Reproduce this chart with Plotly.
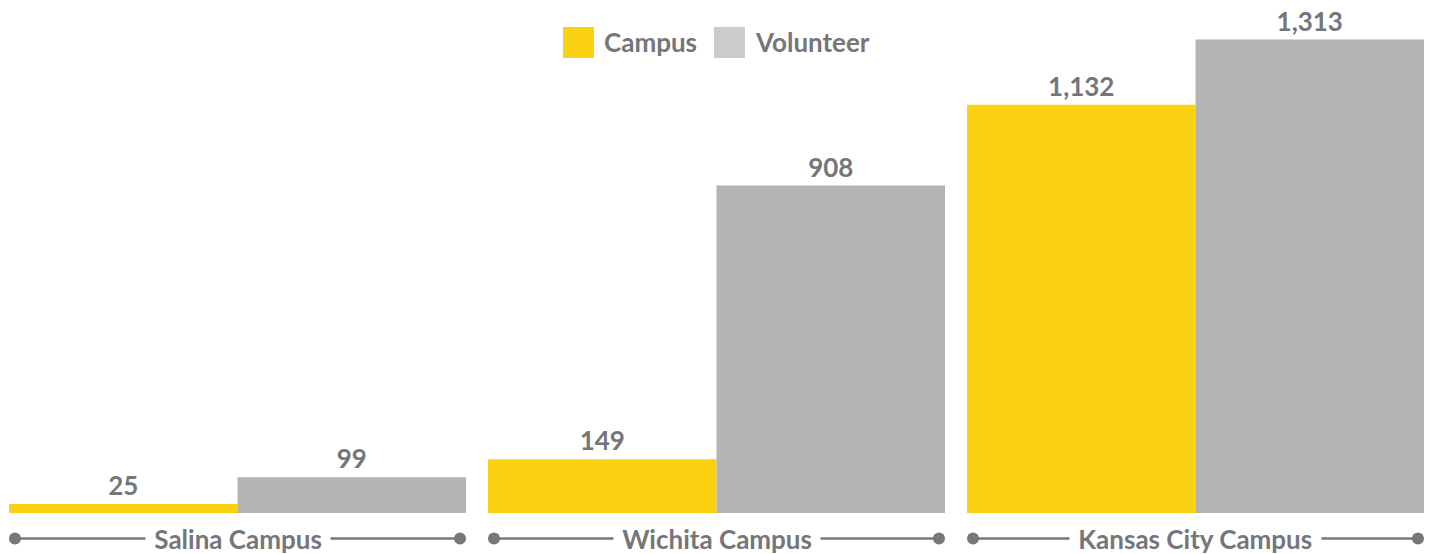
import plotly.graph_objects as go

categories = ["Salina Campus", "Wichita Campus", "Kansas City Campus"]
campus_vals = [25, 149, 1132]
volunteer_vals = [99, 908, 1313]
series_names = ["Campus", "Volunteer"]

YELLOW = "#FAD211"
GRAY = "#B3B3B3"
GRAY_LEGEND = "#CCCCCE"
TEXT = "#75757A"
FONT = "Lato, sans-serif"

W, H = 1435, 554
base_px = 513
top_px = 39.5
s = (base_px - top_px) / max(volunteer_vals)
y0 = -(H - base_px) / s
y1 = base_px / s

fig = go.Figure()
for name, vals, col in [(series_names[0], campus_vals, YELLOW), (series_names[1], volunteer_vals, GRAY)]:
    fig.add_trace(go.Bar(
        name=name, x=categories, y=vals, marker=dict(color=col, line=dict(width=0)),
        text=[f"{v:,}" for v in vals], textposition="outside",
        textfont=dict(family=FONT, size=26, color=TEXT, weight="bold"),
        cliponaxis=False, showlegend=False,
    ))

spacing = 479.0
r0 = -237.5 / spacing
r1 = r0 + W / spacing

fig.update_layout(
    width=W, height=H, margin=dict(l=0, r=0, t=0, b=0),
    paper_bgcolor="white", plot_bgcolor="white",
    barmode="group", bargap=22 / spacing, bargroupgap=0,
    xaxis=dict(range=[r0, r1], showticklabels=False, showgrid=False, zeroline=False, showline=False),
    yaxis=dict(range=[y0, y1], showticklabels=False, showgrid=False, zeroline=False, showline=False),
    showlegend=False,
)

# bottom category labels with line and dots
line_y = 1 - 538.5 / H
half = 222.5
shapes = []
annotations = []
for i, cat in enumerate(categories):
    cx = i
    xl = cx - half / spacing
    xr = cx + half / spacing
    shapes.append(dict(type="line", xref="x", yref="paper", x0=xl, x1=xr, y0=line_y, y1=line_y,
                       line=dict(color="#77777B", width=2.5)))
    for xx in (xl, xr):
        shapes.append(dict(type="circle", xref="x", yref="paper", xsizemode="pixel", ysizemode="pixel",
                           xanchor=xx, yanchor=line_y, x0=-6, x1=6, y0=-6, y1=6,
                           fillcolor="#77777B", line=dict(width=0)))
    annotations.append(dict(text=f"<b>&nbsp;{cat}&nbsp;</b>", x=cx, xref="x", y=line_y, yref="paper",
                            showarrow=False, bgcolor="white", borderpad=2,
                            xanchor="center", yanchor="middle",
                            font=dict(family=FONT, size=26, color=TEXT)))

# manual legend
leg_y = 1 - 42.5 / H
for (name, col, sx) in [(series_names[0], YELLOW, 563), (series_names[1], GRAY_LEGEND, 714)]:
    shapes.append(dict(type="rect", xref="paper", yref="paper",
                       x0=sx / W, x1=(sx + 31) / W, y0=1 - 58 / H, y1=1 - 27 / H,
                       fillcolor=col, line=dict(width=0)))
    annotations.append(dict(text=f"<b>{name}</b>", x=(sx + 39) / W, xref="paper", y=leg_y, yref="paper",
                            showarrow=False, xanchor="left", yanchor="middle",
                            font=dict(family=FONT, size=26, color=TEXT)))

fig.update_layout(shapes=shapes, annotations=annotations)
fig.write_html("out.html", config={"displayModeBar": False},
               post_script="document.body.style.margin='0';document.body.style.overflow='hidden';")
